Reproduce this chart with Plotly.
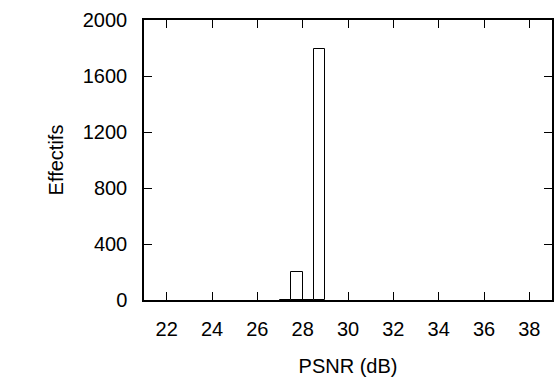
import plotly.graph_objects as go

# Histogram bins (width 0.5 dB) and their counts
bin_centers = [27.25, 27.75, 28.25, 28.75]
counts = [0, 200, 0, 1790]
bin_width = 0.5

x_ticks = [22, 24, 26, 28, 30, 32, 34, 36, 38]
y_ticks = [0, 400, 800, 1200, 1600, 2000]

font = dict(family="Liberation Sans, Arial, sans-serif", size=20, color="black")

fig = go.Figure(
    go.Bar(
        x=bin_centers,
        y=counts,
        width=[bin_width] * len(bin_centers),
        marker=dict(color="white", line=dict(color="black", width=1)),
    )
)

axis_common = dict(
    showgrid=False,
    zeroline=False,
    showline=True,
    linecolor="black",
    linewidth=1.5,
    mirror="ticks",
    ticks="inside",
    ticklen=8,
    tickwidth=1,
    tickcolor="black",
    tickfont=font,
)

fig.update_xaxes(
    range=[21, 39],
    tickvals=x_ticks,
    ticktext=[str(v) for v in x_ticks],
    ticklabelstandoff=10,
    title=dict(text="PSNR (dB)", font=font, standoff=20),
    **axis_common,
)
fig.update_yaxes(
    range=[0, 2000],
    tickvals=y_ticks,
    ticktext=[str(v) for v in y_ticks],
    ticklabelstandoff=11,
    title=dict(text="Effectifs", font=font, standoff=14),
    **axis_common,
)

fig.update_layout(
    width=558,
    height=385,
    margin=dict(l=144, r=4, t=20, b=85),
    paper_bgcolor="white",
    plot_bgcolor="white",
    showlegend=False,
    bargap=0,
)

fig.write_html("out.html")
